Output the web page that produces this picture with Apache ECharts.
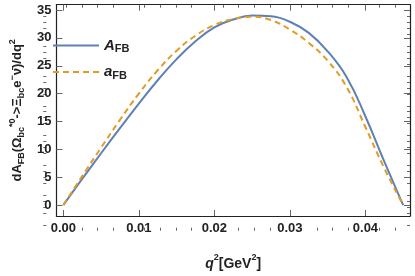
<!DOCTYPE html>
<html>
<head>
<meta charset="utf-8">
<script src="https://cdn.jsdelivr.net/npm/echarts@6/dist/echarts.min.js"></script>
<style>
html,body{margin:0;padding:0;background:#fff;}
#c{width:415px;height:276px;}
</style>
</head>
<body>
<div id="c"></div>
<script>
// q^2 sample points (GeV^2)
const qsq = [0, 0.0025, 0.005, 0.0075, 0.01, 0.0125, 0.015, 0.0175, 0.02, 0.0225, 0.025, 0.0275, 0.03, 0.0325, 0.035, 0.0375, 0.04, 0.0425, 0.045];
// A_FB (solid blue)
const A_FB = [0, 4.7, 9.3, 13.8, 18.2, 22.4, 26.2, 29.4, 31.9, 33.3, 34.0, 33.9, 32.9, 30.9, 27.6, 23.0, 15.9, 7.8, 0];
// a_FB (dashed orange)
const a_FB = [0, 5.2, 10.3, 15.3, 20.0, 24.2, 27.7, 30.4, 32.3, 33.4, 33.8, 33.2, 31.5, 29.1, 25.9, 21.2, 14.0, 6.6, 0];
// axis ticks
const xMajor = [0, 0.01, 0.02, 0.03, 0.04];
const xMinor = [0.002, 0.004, 0.006, 0.008, 0.012, 0.014, 0.016, 0.018, 0.022, 0.024, 0.026, 0.028, 0.032, 0.034, 0.036, 0.038, 0.042, 0.044];
const yMajor = [0, 5, 10, 15, 20, 25, 30, 35];
const yMinor = [-1, 1, 2, 3, 4, 6, 7, 8, 9, 11, 12, 13, 14, 16, 17, 18, 19, 21, 22, 23, 24, 26, 27, 28, 29, 31, 32, 33, 34];

const XMIN = -0.00092, XMAX = 0.0459, YMIN = -1.96, YMAX = 35.96;
const frameCol = '#222';
const tickCol = '#666';
const lblStyle = {color: '#222', fontSize: 13, fontWeight: 'bold', fontFamily: 'Liberation Sans, Arial, sans-serif'};
const G = {left: 43.3, right: 5, top: 4.7, bottom: 45.3};

function ax(type, pos, grid, vals, len, main) {
  const isX = type === 'x';
  const o = {
    type: 'value', gridIndex: grid, position: pos,
    min: isX ? XMIN : YMIN, max: isX ? XMAX : YMAX,
    axisLine: {show: main, onZero: false, lineStyle: {color: main ? frameCol : tickCol, width: 1.2}},
    axisTick: {show: true, inside: true, length: len, customValues: vals, lineStyle: {color: tickCol, width: 1}},
    axisLabel: {show: false},
    splitLine: {show: false}
  };
  if (main && (pos === 'bottom' || pos === 'left')) {
    o.axisLabel = Object.assign({show: true, margin: isX ? 6 : 5, customValues: vals,
      formatter: isX ? (v => v.toFixed(2)) : (v => String(v))}, lblStyle);
  }
  return o;
}

const xAxes = [ax('x', 'bottom', 0, xMajor, 6, true), ax('x', 'top', 0, xMajor, 6, true),
               ax('x', 'bottom', 1, xMinor, 3, false), ax('x', 'top', 1, xMinor, 3, false)];
const yAxes = [ax('y', 'left', 0, yMajor, 6, true), ax('y', 'right', 0, yMajor, 6, true),
               ax('y', 'left', 1, yMinor, 3, false), ax('y', 'right', 1, yMinor, 3, false)];

xAxes[0].name = '{i|q}{p|2}{b|[GeV}{p|2}{b|]}';
xAxes[0].nameLocation = 'middle';
xAxes[0].nameGap = 37;
xAxes[0].nameTextStyle = {rich: {
  i: {fontSize: 14, fontWeight: 'bold', fontStyle: 'italic', color: '#222', fontFamily: 'Liberation Sans', lineHeight: 18, verticalAlign: 'bottom'},
  b: {fontSize: 14, fontWeight: 'bold', color: '#222', fontFamily: 'Liberation Sans', lineHeight: 18, verticalAlign: 'bottom'},
  p: {fontSize: 9, fontWeight: 'bold', color: '#222', fontFamily: 'Liberation Sans', verticalAlign: 'top', lineHeight: 18}
}};
yAxes[0].name = '{t|dA}{s|FB}{t|(Ω}{s|bc}{p|*0}{t|->Ξ}{s|bc}{t|e}{p|−}{t|ν̄)/dq}{p|2}';
yAxes[0].nameLocation = 'middle';
yAxes[0].nameRotate = 90;
yAxes[0].nameGap = 20;
yAxes[0].nameTextStyle = {rich: {
  t: {fontSize: 13, fontWeight: 'bold', color: '#222', fontFamily: 'Liberation Sans', lineHeight: 18, verticalAlign: 'middle'},
  s: {fontSize: 9, fontWeight: 'bold', color: '#222', fontFamily: 'Liberation Sans', lineHeight: 18, verticalAlign: 'bottom'},
  p: {fontSize: 9, fontWeight: 'bold', color: '#222', fontFamily: 'Liberation Sans', lineHeight: 18, verticalAlign: 'top'}
}};

const chart = echarts.init(document.getElementById('c'), null, {renderer: 'canvas'});
chart.setOption({
  animation: false,
  backgroundColor: '#fff',
  grid: [Object.assign({}, G), Object.assign({}, G)],
  xAxis: xAxes,
  yAxis: yAxes,
  legend: {
    orient: 'vertical', left: 47, top: 33, itemWidth: 46, itemHeight: 14, itemGap: 10,
    data: ['A', 'a'],
    itemStyle: {color: 'rgba(0,0,0,0)', borderWidth: 0, opacity: 0},
    formatter: n => n === 'A' ? '{i|A}{s|FB}' : '{i|a}{s|FB}',
    textStyle: {rich: {
      i: {fontSize: 15, fontStyle: 'italic', fontWeight: 'bold', color: '#222', fontFamily: 'Liberation Sans', lineHeight: 18, verticalAlign: 'middle'},
      s: {fontSize: 11, fontWeight: 'bold', color: '#222', fontFamily: 'Liberation Sans', lineHeight: 18, verticalAlign: 'bottom'}
    }}
  },
  series: [
    {name: 'A', type: 'line', xAxisIndex: 0, yAxisIndex: 0, symbol: 'none', showSymbol: false, smooth: 0.45,
     data: qsq.map((q, i) => [q, A_FB[i]]),
     lineStyle: {color: '#5E81B5', width: 2}, itemStyle: {color: '#5E81B5'}},
    {name: 'a', type: 'line', xAxisIndex: 0, yAxisIndex: 0, symbol: 'none', showSymbol: false, smooth: 0.45,
     data: qsq.map((q, i) => [q, a_FB[i]]),
     lineStyle: {color: '#E19C24', width: 2, type: [6, 4]}, itemStyle: {color: '#E19C24'}}
  ]
});
</script>
</body>
</html>
